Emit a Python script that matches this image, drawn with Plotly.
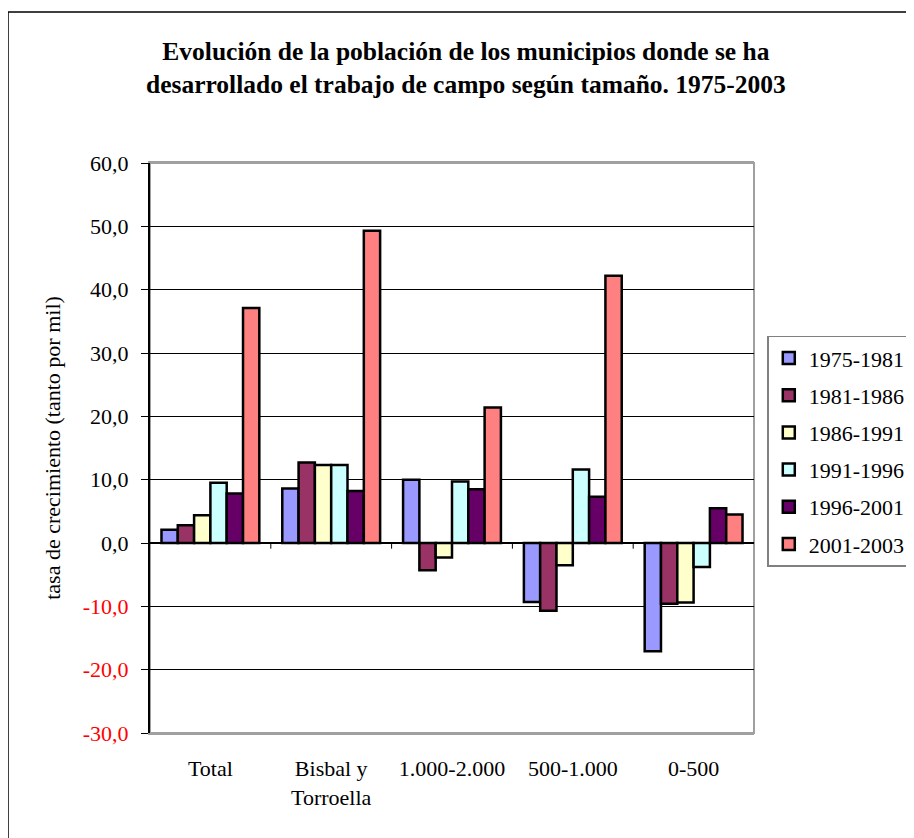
import plotly.graph_objects as go

categories = ["Total", "Bisbal y<br>Torroella", "1.000-2.000", "500-1.000", "0-500"]
series_names = ["1975-1981", "1981-1986", "1986-1991", "1991-1996", "1996-2001", "2001-2003"]
v_1975_1981 = [2.1, 8.6, 10.0, -9.3, -17.1]
v_1981_1986 = [2.8, 12.7, -4.3, -10.7, -9.6]
v_1986_1991 = [4.4, 12.3, -2.3, -3.5, -9.4]
v_1991_1996 = [9.5, 12.3, 9.7, 11.6, -3.8]
v_1996_2001 = [7.8, 8.2, 8.5, 7.3, 5.5]
v_2001_2003 = [37.1, 49.3, 21.4, 42.2, 4.5]
series_values = [v_1975_1981, v_1981_1986, v_1986_1991, v_1991_1996, v_1996_2001, v_2001_2003]
colors = ["#9999FF", "#993366", "#FFFFCC", "#CCFFFF", "#660066", "#FF8080"]
tick_vals = [60, 50, 40, 30, 20, 10, 0, -10, -20, -30]
tick_text = ["60,0", "50,0", "40,0", "30,0", "20,0", "10,0", "0,0", "-10,0", "-20,0", "-30,0"]

FONT = "Liberation Serif, Times New Roman, DejaVu Serif, serif"
FS = 22

fig = go.Figure()
for name, vals, col in zip(series_names, series_values, colors):
    fig.add_trace(go.Bar(
        x=list(range(len(categories))), y=vals, name=name, legendgroup=name,
        marker=dict(color=col, line=dict(color="black", width=2.5)),
    ))

ticktext_colored = [t if v >= 0 else '<span style="color:#FF0000">%s</span>' % t
                    for v, t in zip(tick_vals, tick_text)]

fig.update_layout(
    width=914, height=838,
    margin=dict(l=142, r=168, t=155, b=113, autoexpand=False),
    paper_bgcolor="white", plot_bgcolor="white",
    font=dict(family=FONT, size=FS, color="black"),
    title=dict(
        text="<b>Evolución de la población de los municipios donde se ha<br>desarrollado el trabajo de campo según tamaño. 1975-2003</b>",
        x=0.501, xanchor="center", y=0.938, yanchor="top",
        font=dict(family=FONT, size=25.5, color="black"),
    ),
    barmode="group", bargap=0.19, bargroupgap=0,
    showlegend=True,
    legend=dict(
        x=1.022, xanchor="left", y=0.697, yanchor="top",
        bordercolor="#808080", borderwidth=1.5, bgcolor="white",
        font=dict(family=FONT, size=FS), traceorder="grouped", tracegroupgap=5.6,
        itemwidth=30,
    ),
    xaxis=dict(
        tickmode="array", tickvals=list(range(len(categories))), ticktext=categories,
        range=[-0.5, len(categories) - 0.5], showgrid=False, zeroline=False,
        showline=True, linecolor="#A0A0A0", linewidth=2, mirror=True,
        ticks="", tickfont=dict(family=FONT, size=FS), ticklabelstandoff=15,
    ),
    yaxis=dict(
        range=[-30, 60], tickmode="array", tickvals=tick_vals, ticktext=ticktext_colored,
        showgrid=True, gridcolor="black", gridwidth=1,
        zeroline=True, zerolinecolor="black", zerolinewidth=1.5,
        showline=True, linecolor="black", linewidth=2,
        ticks="outside", ticklen=7, tickcolor="black",
        tickfont=dict(family=FONT, size=FS), ticklabelstandoff=8,
        title=dict(text="tasa de crecimiento (tanto por mil)", font=dict(family=FONT, size=FS), standoff=16),
    ),
)

# grey border of plot area
fig.add_shape(type="rect", xref="paper", yref="paper", x0=0, x1=1, y0=0, y1=1,
              line=dict(color="#A0A0A0", width=2), layer="below")
# category separator ticks on the zero line
for i in range(len(categories) - 1):
    fig.add_shape(type="line", xref="x", yref="y", x0=i + 0.5, x1=i + 0.5, y0=0, y1=-0.9,
                  line=dict(color="black", width=1))
# outer chart frame
fig.add_shape(type="rect", xref="paper", yref="paper", x0=-0.2351, x1=1.3, y0=-0.25, y1=1.2649,
              line=dict(color="black", width=1.5))

fig.write_html("out.html")
